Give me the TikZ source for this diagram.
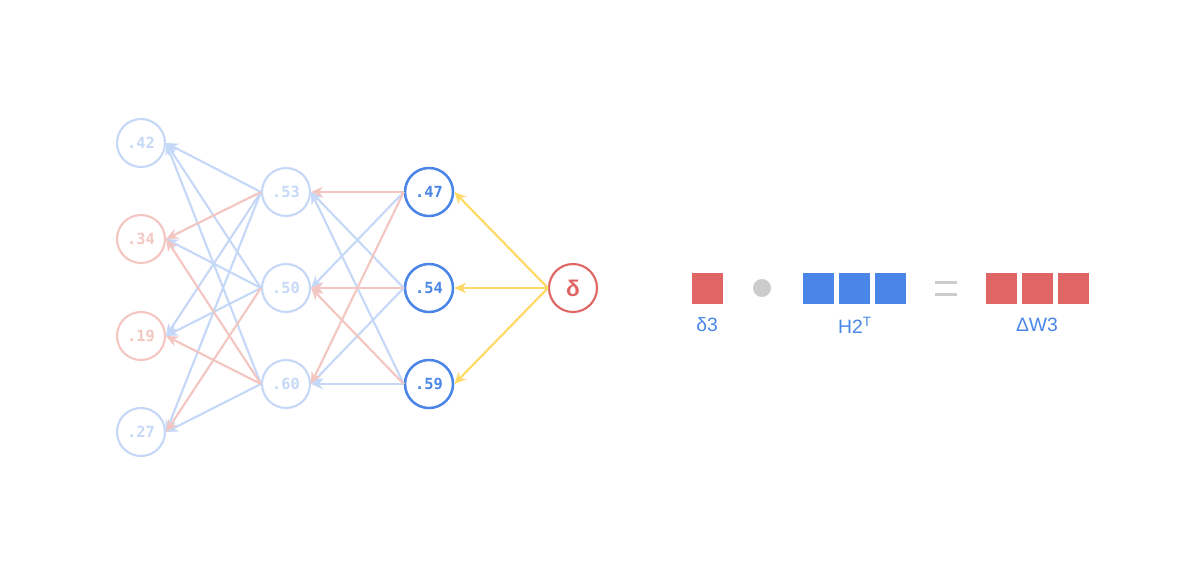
\documentclass[tikz,border=0pt]{standalone}
\usepackage{fontspec}
\setmainfont{Liberation Sans}
\newfontfamily\monofont{DejaVu Sans Mono}
\usetikzlibrary{arrows.meta}

\definecolor{nblue}{HTML}{4A86E8}
\definecolor{nred}{HTML}{E06666}
\definecolor{fblue}{HTML}{C6D8F7}
\definecolor{fred}{HTML}{F3C6C2}
\definecolor{nyellow}{HTML}{FFD966}
\definecolor{ngray}{HTML}{CCCCCC}

\tikzset{
  neuron/.style={circle, draw, line width=1.6pt, minimum size=36pt, inner sep=0pt,
    font=\monofont\bfseries\fontsize{11.5}{11.5}\selectfont},
  link/.style={-{Stealth[length=9pt,width=8pt,inset=3pt]}, line width=1.6pt},
  cell/.style={minimum size=23.25pt, inner sep=0pt},
  tag/.style={text=nblue, font=\fontsize{14.5}{14.5}\selectfont, inner sep=0pt}
}

\begin{document}
\begin{tikzpicture}[x=0.75pt, y=-0.75pt]
    \useasboundingbox (0,0) rectangle (1200,575);

    % Draw neurons
    \foreach \n/\y/\v/\c in {a1/143/.42/fblue, a2/239/.34/fred, a3/336/.19/fred, a4/432/.27/fblue}
        \node[neuron, draw=\c, text=\c] (\n) at (141,\y) {\v};
    \foreach \n/\y/\v in {b1/192/.53, b2/288/.50, b3/384/.60}
        \node[neuron, draw=fblue, text=fblue] (\n) at (286,\y) {\v};
    \foreach \n/\y/\v in {c1/192/.47, c2/288/.54, c3/384/.59}
        \node[neuron, draw=nblue, text=nblue, line width=1.9pt] (\n) at (429,\y) {\v};
    \node[neuron, draw=nred, text=nred, font=\bfseries\fontsize{17}{17}\selectfont] (d) at (573,288) {δ};

    % Draw connections
    \foreach \s/\t/\c in {b1/a1/fblue, b1/a3/fblue, b1/a4/fblue, b2/a1/fblue, b2/a2/fblue,
                          b2/a3/fblue, b3/a1/fblue, b3/a4/fblue,
                          b1/a2/fred, b2/a4/fred, b3/a2/fred, b3/a3/fred}
        \draw[link, \c] (\s.west) -- (\t.east);
    \foreach \s/\t/\c in {c1/b2/fblue, c2/b1/fblue, c2/b3/fblue, c3/b1/fblue, c3/b3/fblue,
                          c1/b1/fred, c1/b3/fred, c2/b2/fred, c3/b2/fred}
        \draw[link, \c] (\s.west) -- (\t.east);
    \foreach \t in {c1, c2, c3}
        \draw[link, nyellow] (d.west) -- (\t.east);

    % Equation
    \node[cell, fill=nred] (e1) at (707,288) {};
    \fill[ngray] (762,288) circle (6.75pt);
    \foreach \i/\x in {1/818, 2/854, 3/890}
        \node[cell, fill=nblue] (h\i) at (\x,288) {};
    \fill[ngray] (935,280.5) rectangle (957,283.5);
    \fill[ngray] (935,292.5) rectangle (957,295.5);
    \foreach \i/\x in {1/1001, 2/1037, 3/1073}
        \node[cell, fill=nred] (w\i) at (\x,288) {};

    % Labels
    \node[tag] (l1) at (707,325) {δ3};
    \node[tag] (l2) at (855,325) {H2\textsuperscript{T}};
    \node[tag] (l3) at (1037,325) {ΔW3};
\end{tikzpicture}
\end{document}
